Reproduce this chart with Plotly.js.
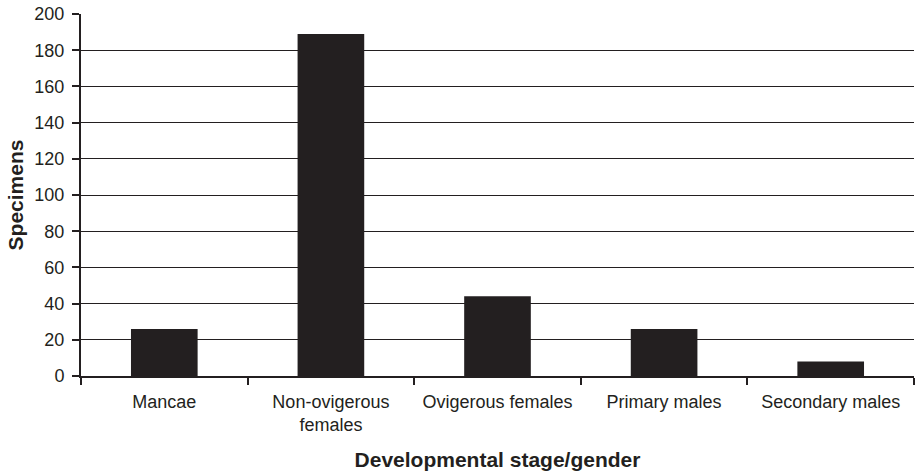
<!DOCTYPE html>
<html><head><meta charset="utf-8">
<script src="https://cdn.plot.ly/plotly-3.0.1.min.js"></script>
<style>body{margin:0;padding:0;background:#fff}#chart{width:915px;height:473px}</style>
</head><body><div id="chart"></div>
<script>
const categories = ["Mancae", "Non-ovigerous<br>females", "Ovigerous females", "Primary males", "Secondary males"];
const specimens = [26, 189, 44, 26, 8];
const yTicks = [0, 20, 40, 60, 80, 100, 120, 140, 160, 180, 200];

const trace = {
  type: "bar",
  x: categories,
  y: specimens,
  width: 0.4,
  marker: {color: "#231f20", line: {width: 0}},
  hoverinfo: "x+y"
};
const font = {family: "Liberation Sans, Arial, sans-serif", color: "#231f20"};
const layout = {
  width: 915, height: 473,
  margin: {l: 81, r: 1, t: 14, b: 97},
  paper_bgcolor: "#fff", plot_bgcolor: "#fff",
  font: font,
  showlegend: false,
  xaxis: {
    type: "category",
    showline: true, linecolor: "#231f20", linewidth: 2,
    ticks: "outside", tickson: "boundaries", ticklen: 7, tickwidth: 2, tickcolor: "#231f20",
    tickfont: {size: 18, family: font.family, color: "#231f20"},
    ticklabelstandoff: 8,
    showgrid: false,
    title: {text: "<b>Developmental stage/gender</b>", font: {size: 21, family: font.family, color: "#231f20"}, standoff: 18},
    fixedrange: true
  },
  yaxis: {
    range: [0, 200],
    tickvals: yTicks,
    showline: true, linecolor: "#231f20", linewidth: 2,
    ticks: "outside", ticklen: 7, tickwidth: 2, tickcolor: "#231f20",
    tickfont: {size: 18, family: font.family, color: "#231f20"},
    ticklabelstandoff: 4,
    showgrid: true, gridcolor: "#231f20", gridwidth: 1,
    zeroline: false,
    title: {text: "<b>Specimens</b>", font: {size: 21, family: font.family, color: "#231f20"}, standoff: 5},
    fixedrange: true
  }
};
Plotly.newPlot("chart", [trace], layout, {displayModeBar: false, staticPlot: true});
</script>
</body></html>
